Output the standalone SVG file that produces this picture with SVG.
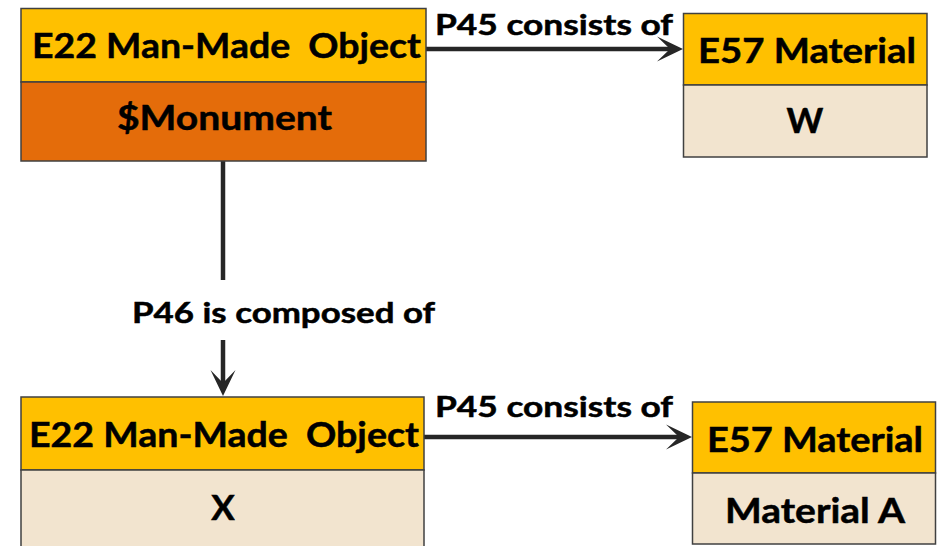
<svg xmlns="http://www.w3.org/2000/svg" width="937" height="546" viewBox="0 0 937 546">
<style>
.hdr{fill:#FFC000;stroke:#404040;stroke-width:1.5}
.org{fill:#E46C0A;stroke:#404040;stroke-width:1.5}
.bg{fill:#F2E4CF;stroke:#404040;stroke-width:1.5}
.t{font-family:Lato,"Open Sans","DejaVu Sans",sans-serif;font-weight:bold;fill:#000;text-anchor:middle;stroke:#000;stroke-width:0.5}
.big{font-size:35px}
.lbl{font-family:Lato,"Open Sans","DejaVu Sans",sans-serif;font-weight:bold;fill:#000;font-size:29px;stroke:#000;stroke-width:0.5}
.c{stroke:#262626;stroke-width:4.5;fill:none}
</style>
<defs>
<marker id="ah" markerUnits="userSpaceOnUse" orient="auto" overflow="visible" markerWidth="30" markerHeight="30" refX="0" refY="0">
<path d="M13,0 L-13,-12.5 L0,0 L-13,12.5 Z" fill="#262626"/>
</marker>
</defs>
<rect width="937" height="546" fill="#fff"/>
<g id="connectors">
<line class="c" x1="426" y1="49" x2="670" y2="49" marker-end="url(#ah)"/>
<line class="c" x1="223" y1="161" x2="223" y2="280"/>
<line class="c" x1="223" y1="340" x2="223" y2="383" marker-end="url(#ah)"/>
<line class="c" x1="424" y1="437" x2="679" y2="437" marker-end="url(#ah)"/>
<text class="lbl" x="435" y="35" textLength="238" lengthAdjust="spacingAndGlyphs">P45 consists of</text>
<text class="lbl" x="132" y="323" textLength="303" lengthAdjust="spacingAndGlyphs">P46 is composed of</text>
<text class="lbl" x="435" y="417" textLength="238" lengthAdjust="spacingAndGlyphs">P45 consists of</text>
</g>
<g id="node-monument">
<rect class="hdr" x="21" y="8.5" width="405" height="73.5"/>
<rect class="org" x="21" y="82" width="405" height="79"/>
<text class="t big" x="226.5" y="58" textLength="389" lengthAdjust="spacingAndGlyphs">E22 Man-Made&#160; Object</text>
<text class="t big" x="224.5" y="130" textLength="215" lengthAdjust="spacingAndGlyphs">$Monument</text>
</g>
<g id="node-material-w">
<rect class="hdr" x="683.5" y="13.5" width="243.5" height="71.5"/>
<rect class="bg" x="683.5" y="85" width="243.5" height="72"/>
<text class="t big" x="807" y="63" textLength="218" lengthAdjust="spacingAndGlyphs">E57 Material</text>
<text class="t big" x="805" y="133">W</text>
</g>
<g id="node-x">
<rect class="hdr" x="21" y="397" width="403" height="73"/>
<rect class="bg" x="21" y="470" width="403" height="90"/>
<text class="t big" x="224" y="447" textLength="390" lengthAdjust="spacingAndGlyphs">E22 Man-Made&#160; Object</text>
<text class="t big" x="223" y="520">X</text>
</g>
<g id="node-material-a">
<rect class="hdr" x="692.5" y="402" width="243" height="71"/>
<rect class="bg" x="692.5" y="473" width="243" height="71"/>
<text class="t big" x="815" y="452" textLength="216" lengthAdjust="spacingAndGlyphs">E57 Material</text>
<text class="t big" x="815" y="523" textLength="180" lengthAdjust="spacingAndGlyphs">Material A</text>
</g>
</svg>
